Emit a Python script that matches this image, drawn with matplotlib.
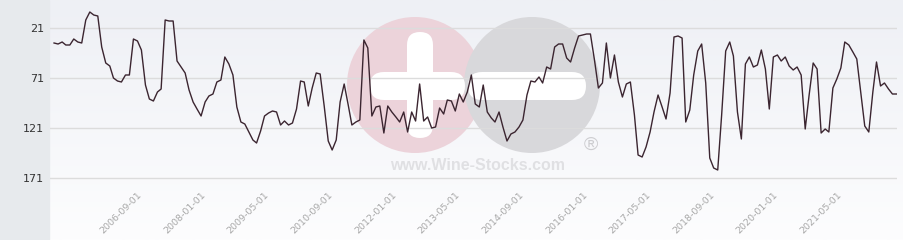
import matplotlib
matplotlib.use("Agg")
import matplotlib.pyplot as plt
from matplotlib.patches import Rectangle, Circle, FancyBboxPatch
from matplotlib.colors import LinearSegmentedColormap
import numpy as np
import pandas as pd

# monthly rank, 2004-12 .. 2022-08
dates = pd.date_range("2004-12-01", periods=213, freq="MS")
ranks = [
    36, 37, 35, 38, 38, 32, 35, 36, 13, 5, 8, 9, 40, 56, 59, 71, 74, 75, 68, 68,
    32, 34, 43, 78, 92, 94, 85, 82, 13, 14, 14, 54, 60, 66, 83, 95,
    102, 109, 95, 89, 87, 75, 73, 50, 57, 68, 100, 115, 117, 125, 133, 136, 124,
    109, 106, 104, 105, 118, 114, 118, 116, 102, 74, 75, 99, 81, 66, 67, 99, 134, 143,
    133, 95, 77, 98, 118, 115, 113, 33, 41, 109, 100, 99, 126, 99, 105, 110, 115,
    105, 125, 105, 114, 77, 114, 110, 121, 120, 101, 107, 93, 94, 104, 87, 95, 85, 68,
    97, 100, 78, 105, 111, 115, 105, 120, 134, 127, 125, 120, 113, 88, 74, 75, 70,
    76, 60, 62, 40, 37, 37, 51, 55, 41, 29, 28, 27, 27, 53, 81, 76, 36, 71,
    48, 75, 90, 77, 75, 108, 148, 150, 140, 125, 105, 88, 100, 112, 86, 30, 29, 31,
    115, 103, 68, 44, 37, 76, 151, 161, 163, 108, 44, 35, 49, 105, 132, 57, 50,
    60, 58, 43, 62, 102, 50, 48, 54, 50, 59, 63, 60, 68, 122, 88, 56, 62, 126, 122,
    125, 81, 72, 61, 35, 38, 45, 52, 86, 119, 125, 85, 55, 79, 76, 82, 87, 87,
]
tick_labels = ["2006-09-01", "2008-01-01", "2009-05-01", "2010-09-01", "2012-01-01",
               "2013-05-01", "2014-09-01", "2016-01-01", "2017-05-01", "2018-09-01",
               "2020-01-01", "2021-05-01"]
y_ticks = [21, 71, 121, 171]

W, H = 904, 240
fig = plt.figure(figsize=(W / 100, H / 100), dpi=100)

# background + watermark in pixel coordinates
bg = fig.add_axes([0, 0, 1, 1])
bg.set_xlim(0, W)
bg.set_ylim(H, 0)
bg.axis("off")
cmap = LinearSegmentedColormap.from_list("bg", ["#eef0f5", "#fdfdfe"])
bg.imshow(np.linspace(0, 1, 100).reshape(-1, 1), extent=(49, W, H, 0),
          cmap=cmap, aspect="auto")
bg.add_patch(Rectangle((0, 0), 49, H, color="#e7eaed"))
bg.add_patch(Circle((415, 85), 68, color="#ecd3da", lw=0))
bg.add_patch(Circle((532, 85), 68, color="#d8d8db", lw=0))
bg.add_patch(FancyBboxPatch((407, 32), 26, 106, boxstyle="round,pad=0,rounding_size=13",
                            fc="white", ec="none"))
bg.add_patch(FancyBboxPatch((370, 72), 95, 28, boxstyle="round,pad=0,rounding_size=14",
                            fc="white", ec="none"))
bg.add_patch(FancyBboxPatch((468, 72), 118, 28, boxstyle="round,pad=0,rounding_size=14",
                            fc="white", ec="none"))
bg.text(478, 166, "www.Wine-Stocks.com", ha="center", va="center",
        fontsize=11.5, fontweight="bold", color="#e0e0e3", family="Liberation Sans")
bg.text(591, 145, "\u00ae", ha="center", va="center", fontsize=14,
        color="#cdcdd0", family="Liberation Sans")

# main chart
ax = fig.add_axes([50 / W, 1 - 185 / H, 847 / W, 185 / H])
ax.patch.set_alpha(0)
ax.plot(dates, ranks, color="#3b2530", lw=1.0)
ax.set_ylim(178, -7)
ax.set_xlim(dates[0] - pd.Timedelta(days=31), dates[-1] + pd.Timedelta(days=4))
ax.set_yticks(y_ticks)
ax.set_yticklabels([str(v) for v in y_ticks], fontsize=8, color="#333333")
ax.set_xticks(pd.to_datetime(tick_labels))
ax.set_xticklabels(tick_labels, rotation=45, ha="right", rotation_mode="anchor",
                   fontsize=6.8, color="#a8a8a8")
ax.tick_params(axis="both", length=0)
ax.tick_params(axis="y", pad=4)
ax.tick_params(axis="x", pad=4)
ax.grid(axis="y", color="#dcdcdc", lw=1)
ax.set_axisbelow(True)
for s in ax.spines.values():
    s.set_visible(False)

fig.savefig("out.png", dpi=100)
